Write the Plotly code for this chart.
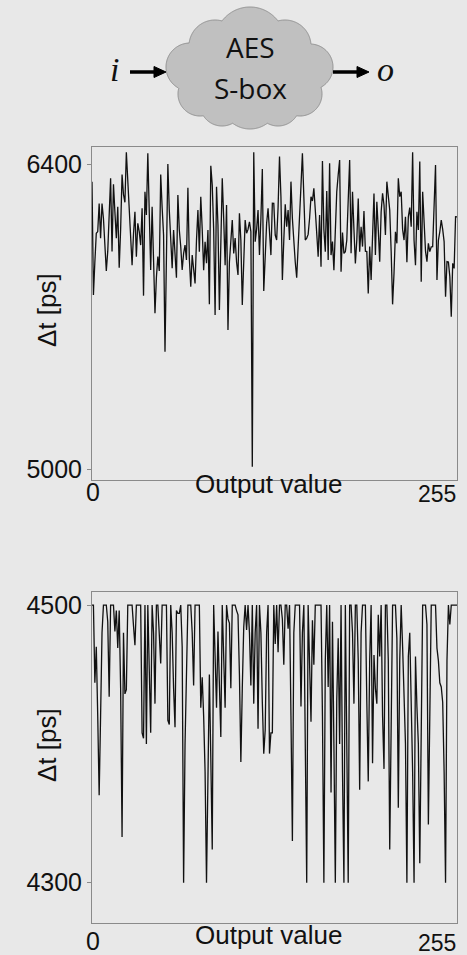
import numpy as np
import plotly.graph_objects as go

W, H = 467, 955

# ---------------- data ----------------
output_values = list(range(256))

delta_t_top = [
    6319, 5799, 5950, 6082, 6090, 6219, 6059, 6219, 6150, 6000,
    5909, 6000, 6150, 6334, 5998, 6307, 6180, 6059, 6204, 5924,
    6100, 6352, 6260, 6224, 6454, 6330, 6180, 6050, 5936, 6080,
    6181, 5974, 6128, 6090, 6028, 6197, 5796, 6273, 6166, 6449,
    6212, 5914, 6204, 6000, 5715, 5880, 5975, 5909, 6352, 6200,
    6074, 5539, 6100, 6400, 6189, 6050, 5922, 6097, 6000, 5878,
    6258, 6097, 6020, 5914, 5990, 6028, 5960, 6291, 5967, 5837,
    5982, 5930, 5852, 6050, 6189, 5998, 6250, 6100, 5913, 6043,
    5945, 6097, 5756, 6392, 6304, 6100, 5707, 6296, 6120, 5730,
    6050, 6334, 6150, 5936, 6212, 5638, 5950, 6060, 6143, 5990,
    6060, 5950, 5891, 6174, 6050, 5753, 5950, 6143, 6082, 6100,
    6135, 6090, 5011, 6454, 6043, 6100, 6189, 5982, 6150, 6377,
    5817, 6000, 6128, 6197, 6080, 5982, 6220, 6219, 6074, 6051,
    6200, 6434, 6250, 5868, 6050, 6215, 6112, 6189, 6051, 6319,
    6150, 6028, 5950, 5878, 6000, 6181, 6300, 6449, 6250, 6051,
    6060, 6077, 6150, 6250, 6230, 6288, 6189, 6100, 5975, 6166,
    5929, 6414, 6100, 5998, 6276, 5959, 6403, 5982, 6044, 5913,
    6100, 6273, 6350, 6418, 5906, 6086, 5990, 5998, 6050, 6200,
    6418, 5990, 6273, 6100, 5944, 6050, 6242, 5998, 6112, 6021,
    6184, 6000, 5998, 5806, 6021, 5868, 6050, 6265, 5982, 6227,
    6100, 5952, 6180, 6265, 6212, 6074, 6319, 6250, 6189, 6000,
    5756, 5900, 6089, 6036, 6334, 6250, 6273, 6100, 6051, 6158,
    5949, 6158, 6200, 6112, 6454, 6050, 5936, 6181, 6097, 6411,
    5860, 6273, 6089, 6000, 5952, 6036, 5998, 6020, 6021, 6250,
    6395, 5868, 6050, 6089, 6143, 6100, 6044, 5791, 5952, 5950,
    5883, 5699, 5944, 5921, 6158, 6157,
]

delta_t_bottom = [
    4500, 4500, 4444, 4470, 4420, 4363, 4420, 4480, 4500, 4500,
    4500, 4488, 4434, 4500, 4500, 4500, 4481, 4496, 4469, 4496,
    4440, 4333, 4480, 4436, 4439, 4500, 4500, 4500, 4500, 4485,
    4471, 4500, 4500, 4500, 4500, 4408, 4404, 4500, 4400, 4500,
    4460, 4408, 4500, 4480, 4429, 4500, 4500, 4480, 4458, 4500,
    4500, 4500, 4500, 4417, 4414, 4500, 4480, 4440, 4412, 4496,
    4494, 4494, 4500, 4470, 4300, 4400, 4451, 4500, 4500, 4500,
    4480, 4442, 4500, 4500, 4500, 4500, 4426, 4448, 4420, 4380,
    4300, 4398, 4450, 4390, 4324, 4500, 4470, 4426, 4481, 4440,
    4405, 4500, 4470, 4426, 4500, 4490, 4487, 4440, 4500, 4500,
    4500, 4496, 4493, 4450, 4387, 4440, 4484, 4500, 4482, 4500,
    4480, 4442, 4500, 4429, 4480, 4500, 4411, 4500, 4480, 4430,
    4393, 4410, 4480, 4500, 4393, 4408, 4408, 4500, 4472, 4500,
    4466, 4500, 4500, 4490, 4457, 4500, 4500, 4483, 4500, 4420,
    4330, 4480, 4500, 4500, 4500, 4500, 4427, 4480, 4500, 4400,
    4300, 4500, 4460, 4416, 4489, 4457, 4500, 4500, 4500, 4500,
    4500, 4420, 4300, 4460, 4500, 4441, 4500, 4365, 4488, 4400,
    4300, 4432, 4476, 4400, 4500, 4380, 4300, 4500, 4390, 4300,
    4500, 4500, 4480, 4429, 4500, 4500, 4460, 4367, 4480, 4500,
    4500, 4500, 4430, 4373, 4460, 4500, 4386, 4464, 4440, 4429,
    4493, 4463, 4500, 4420, 4382, 4500, 4500, 4460, 4324, 4440,
    4500, 4500, 4500, 4476, 4354, 4460, 4500, 4470, 4441, 4400,
    4300, 4463, 4480, 4436, 4380, 4300, 4463, 4427, 4400, 4314,
    4440, 4500, 4500, 4500, 4486, 4342, 4420, 4500, 4500, 4500,
    4500, 4469, 4460, 4444, 4441, 4430, 4380, 4300, 4460, 4500,
    4486, 4500, 4500, 4500, 4500, 4500,
]

top_yticks = [5000, 6400]
bottom_yticks = [4300, 4500]
x_tick_labels = ["0", "255"]
x_title = "Output value"
y_title = "Δt [ps]"
cloud_lines = ["AES", "S-box"]

# ---------------- helpers ----------------
def px(x):
    return x / W

def py(y):
    return 1 - y / H

BG = "#e8e8e8"
AX = "#8a8a8a"

fig = go.Figure()
fig.add_trace(go.Scatter(x=output_values, y=delta_t_top, mode="lines",
                         line=dict(color="#111111", width=1.3),
                         xaxis="x", yaxis="y", showlegend=False))
fig.add_trace(go.Scatter(x=output_values, y=delta_t_bottom, mode="lines",
                         line=dict(color="#111111", width=1.3),
                         xaxis="x2", yaxis="y2", showlegend=False))

xdom = [px(92), px(457)]
axis_common = dict(showgrid=False, zeroline=False, showline=True, mirror=True,
                   linecolor=AX, linewidth=1)
tickfont = dict(family="Liberation Sans, Arial", size=25, color="#111")

fig.update_layout(
    width=W, height=H,
    margin=dict(l=0, r=0, t=0, b=0),
    paper_bgcolor=BG, plot_bgcolor=BG,
    showlegend=False,
    xaxis=dict(domain=xdom, range=[0, 255], anchor="y", showticklabels=False,
               ticks="", automargin=False, **axis_common),
    yaxis=dict(domain=[py(480), py(147)], range=[4950, 6478], anchor="x",
               tickvals=top_yticks, ticktext=[str(v) for v in top_yticks],
               ticks="outside", ticklen=4, tickcolor=AX, tickfont=tickfont,
               automargin=False, **axis_common),
    xaxis2=dict(domain=xdom, range=[0, 255], anchor="y2", showticklabels=False,
                ticks="", automargin=False, **axis_common),
    yaxis2=dict(domain=[py(923), py(592)], range=[4271, 4509.4], anchor="x2",
                tickvals=bottom_yticks, ticktext=[str(v) for v in bottom_yticks],
                ticks="outside", ticklen=4, tickcolor=AX, tickfont=tickfont,
                automargin=False, **axis_common),
)

annotations = []
label_font = dict(family="Liberation Sans, Arial", color="#111")

def ann(x, y, text, size, family="Liberation Sans, Arial", angle=0):
    return dict(x=px(x), y=py(y), xref="paper", yref="paper", text=text,
                showarrow=False, xanchor="center", yanchor="middle",
                textangle=angle, font=dict(family=family, size=size, color="#111"))

for (ylab, ytitle, ycenter) in [(492, 484, 310), (941, 935, 745)]:
    annotations.append(ann(93, ylab, x_tick_labels[0], 25))
    annotations.append(ann(268, ytitle, x_title, 26))
    annotations.append(ann(437, ylab + 2, x_tick_labels[1], 23))
    annotations.append(ann(47, ycenter, y_title, 26, angle=-90))

annotations.append(ann(250, 47, cloud_lines[0], 28, family="Open Sans"))
annotations.append(ann(250, 88, cloud_lines[1], 28, family="Open Sans"))
annotations.append(ann(114, 70, "<i>i</i>", 34, family="Liberation Serif"))
annotations.append(ann(385, 70, "<i>o</i>", 34, family="Liberation Serif"))
fig.update_layout(annotations=annotations)

# cloud outline as union of circles (pixel space), sampled radially
circles = [(250, 42, 35), (215, 46, 26), (285, 46, 26), (190, 67, 24),
           (310, 67, 23), (200, 94, 22), (300, 94, 22), (250, 100, 29),
           (222, 104, 22), (278, 104, 22), (250, 70, 40)]
c0 = np.array([250.0, 70.0])
pts = []
for th in np.linspace(0, 2 * np.pi, 721):
    d = np.array([np.cos(th), np.sin(th)])
    best = 0.0
    for (cx, cy, r) in circles:
        v = np.array([cx, cy]) - c0
        b = d @ v
        disc = b * b - (v @ v - r * r)
        if disc >= 0:
            t = b + np.sqrt(disc)
            best = max(best, t)
    p = c0 + best * d
    pts.append(p)
path = "M " + " L ".join(f"{px(p[0]):.5f},{py(p[1]):.5f}" for p in pts) + " Z"

shapes = [dict(type="path", path=path, xref="paper", yref="paper",
               fillcolor="#c0c0c0", line=dict(color="#909090", width=1))]

def arrow(x0, x1, y):
    return [
        dict(type="line", xref="paper", yref="paper", x0=px(x0), x1=px(x1 - 10),
             y0=py(y), y1=py(y), line=dict(color="black", width=3.5)),
        dict(type="path", xref="paper", yref="paper",
             path=f"M {px(x1-12)},{py(y-5.5)} L {px(x1)},{py(y)} L {px(x1-12)},{py(y+5.5)} Z",
             fillcolor="black", line=dict(color="black", width=1)),
    ]

shapes += arrow(130, 166, 72)
shapes += arrow(333, 369, 72)
fig.update_layout(shapes=shapes)

fig.write_html("out.html")
